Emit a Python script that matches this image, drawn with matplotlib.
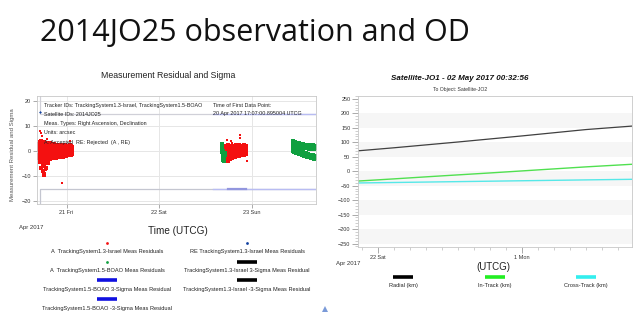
import matplotlib
matplotlib.use("Agg")
import matplotlib.pyplot as plt
from matplotlib.lines import Line2D
from matplotlib.ticker import MultipleLocator

plt.rcParams['font.family'] = ['Liberation Sans', 'DejaVu Sans']

# ---- left chart data (time in hours since 20 Apr 2017 00:00 UTCG) ----
r1_t = [16.9, 17.1, 17.3, 17.5, 17.8, 18.0, 18.2, 18.4, 18.6, 18.9, 19.1, 19.3, 19.5, 19.7,
        20.0, 20.2, 20.4, 20.6, 20.8, 21.1, 21.3, 21.5, 21.7, 21.9, 22.2, 22.4, 22.6, 22.8,
        23.0, 23.3, 23.5, 23.7, 23.9, 24.1, 24.4, 24.6, 24.8, 25.0, 25.2, 25.5]
r1_up = [2.8, 3.5, 2.2, 4.1, 3.0, 2.5, 3.8, 2.9, 2.1, 3.3, 2.6, 1.9, 2.4, 3.1, 2.0, 2.7, 1.8,
         2.3, 2.9, 1.7, 2.2, 1.6, 2.5, 1.9, 1.4, 2.1, 1.8, 2.4, 1.5, 2.0, 1.7, 2.3, 1.9, 1.6,
         2.2, 1.8, 2.6, 1.5, 2.0, 1.7]
r1_mid = [0.4, -0.8, 0.9, -0.3, 0.6, -1.1, 0.2, -0.5, 0.8, -0.2, 0.5, -0.7, 0.3, 0.0, -0.4,
          0.7, -0.1, 0.4, -0.6, 0.2, 0.5, -0.3, 0.1, -0.5, 0.3, 0.0, -0.2, 0.6, -0.4, 0.2,
          0.1, -0.3, 0.4, -0.1, 0.3, 0.0, 0.5, -0.2, 0.2, 0.6]
r1_lo = [-2.5, -4.2, -6.5, -3.1, -8.0, -5.2, -9.6, -4.4, -6.8, -3.5, -2.9, -4.6, -2.4, -3.2,
         -2.1, -2.8, -1.9, -2.5, -2.2, -1.8, -2.6, -2.0, -1.7, -2.4, -1.9, -1.5, -2.1, -1.6,
         -2.3, -1.4, -1.8, -1.2, -1.7, -1.5, -1.1, -1.6, -1.3, -1.0, -1.4, -0.9]
r1_q1 = [1.6, 1.9, 1.3, 2.0, 1.5, 1.2, 2.1, 1.7, 1.0, 1.8, 1.4, 1.1, 1.5, 1.9, 1.2, 1.6, 1.0,
         1.4, 1.7, 1.1, 1.3, 0.9, 1.5, 1.2, 0.8, 1.3, 1.1, 1.5, 0.9, 1.2, 1.0, 1.4, 1.2, 0.9,
         1.3, 1.1, 1.6, 0.9, 1.2, 1.1]
r1_q3 = [-1.4, -2.3, -3.5, -1.9, -4.6, -2.9, -5.8, -2.6, -3.9, -1.8, -1.7, -2.4, -1.3, -1.8,
         -1.2, -1.6, -1.0, -1.4, -1.3, -1.0, -1.5, -1.1, -0.9, -1.4, -1.0, -0.8, -1.2, -0.9,
         -1.3, -0.7, -1.0, -0.6, -0.9, -0.8, -0.6, -0.9, -0.7, -0.5, -0.8, -0.4]
r1s_t = [17.2, 17.6, 18.1, 18.6, 19.0, 22.9, 24.8, 17.4, 18.3]
r1s_v = [8.2, 6.0, -9.8, -7.5, 4.8, -12.5, 3.9, 7.2, -8.6]

r2_t = [64.6, 64.9, 65.2, 65.5, 65.8, 66.1, 66.4, 66.7, 67.0, 67.3, 67.6, 67.9, 68.2, 68.5,
        68.8, 69.1, 69.4, 69.7, 70.0, 70.3, 70.6]
r2_up = [1.2, 2.0, 0.8, 1.6, 2.4, 1.1, 1.9, 0.9, 1.5, 2.2, 1.3, 2.6, 1.0, 1.8, 2.3, 1.4, 2.0,
         1.2, 2.5, 1.6, 1.9]
r2_mid = [-1.5, -0.6, -2.0, -0.9, -0.2, -1.3, 0.1, -0.7, -0.4, 0.3, -0.2, 0.5, -0.1, 0.2, 0.6,
          0.0, 0.4, 0.1, 0.7, 0.3, 0.5]
r2_lo = [-3.2, -4.0, -3.6, -2.8, -3.9, -2.5, -3.1, -2.2, -2.7, -1.9, -2.3, -1.6, -2.0, -1.4,
         -1.8, -1.2, -1.5, -1.0, -1.3, -0.9, -1.1]
r2_q = [-0.3, 0.7, -1.0, 0.4, 1.1, -0.1, 1.0, 0.2, 0.6, 1.2, 0.5, 1.5, 0.4, 1.0, 1.4, 0.7,
        1.2, 0.6, 1.6, 0.9, 1.2]
r2_q2 = [-2.4, -2.9, -2.8, -1.9, -3.0, -1.9, -2.1, -1.4, -1.6, -0.8, -1.3, -0.6, -1.1, -0.6,
         -0.6, -0.6, -0.6, -0.4, -0.3, -0.3, -0.3]
r2s_t = [66.6, 66.9, 69.0, 69.1, 70.8, 65.6, 67.8]
r2s_v = [4.1, 3.2, 6.4, 5.4, -3.8, 4.6, 3.0]

g1_t = [64.2, 64.3, 64.4, 64.5, 64.6, 64.7, 64.8, 64.9, 65.0, 65.2, 64.3, 64.5, 64.7, 64.9,
        64.4, 64.6]
g1_v = [2.3, 1.0, -0.3, -1.5, -2.6, -3.4, -3.9, -2.8, -1.6, -0.5, 2.8, 0.3, -1.9, -3.6, 1.6, -1.0]

g2_t = [82.7, 83.0, 83.3, 83.6, 83.9, 84.2, 84.5, 84.8, 85.1, 85.4, 85.7, 86.0, 86.3, 86.6,
        86.9, 87.2, 87.5, 87.8, 88.1, 88.4]
g2_a = [3.9, 3.6, 3.8, 3.3, 3.0, 3.2, 2.8, 2.9, 2.5, 2.7, 2.4, 2.6, 2.2, 2.5, 2.1, 2.4, 2.0, 2.3, 2.1, 2.2]
g2_b = [2.4, 2.0, 2.6, 1.9, 1.7, 1.8, 1.5, 1.9, 1.4, 1.6, 1.2, 1.5, 1.1, 1.4, 1.0, 1.3, 0.9, 1.2, 1.0, 1.3]
g2_c = [1.2, 0.8, 1.0, 0.4, 0.2, 0.0, -0.3, -0.1, -0.6, -0.4, -0.9, -0.7, -1.2, -1.0, -1.5,
        -1.3, -1.8, -1.6, -2.0, -1.8]
g2_d = [0.3, -0.2, 0.1, -0.5, -0.7, -0.9, -1.2, -1.0, -1.5, -1.3, -1.8, -1.6, -2.1, -1.9, -2.4,
        -2.2, -2.7, -2.5, -2.9, -2.7]

rej_t = [17.1]
rej_v = [15.8]

sig_israel_t = [17.0, 17.0, 88.7]
sig_israel_up = [22.0, 15.0, 15.0]
sig_israel_dn = [-22.0, -15.0, -15.0]
sig_boao_t = [62.0, 88.7]
sig_boao_up = [15.0, 15.0]
sig_boao_dn = [-15.1, -15.1]
sig_boao_pass_t = [66.0, 70.5]

left_ticks = [24, 48, 72]
left_labels = ["21 Fri", "22 Sat", "23 Sun"]

# ---- right chart data (days since 22 Apr 2017 00:00 UTCG) ----
od_t = [-1.25, 1, 3, 5, 7, 9, 11, 13, 15.875]
radial = [70.5, 81, 91, 101, 111.5, 122, 133, 144, 156]
in_track = [-34, -26.5, -19.5, -12.7, -6, 1, 8, 15, 24]
cross_track = [-40.6, -39, -37.5, -36, -34.5, -33, -31.5, -30, -28]

right_ticks = [0, 9]
right_labels = ["22 Sat", "1 Mon"]

W, H = 643, 327
fig = plt.figure(figsize=(W / 100, H / 100), dpi=100)


def fx(px):
    return px / W


def fy(py):
    return 1 - py / H


fig.text(fx(40), fy(33), "2014JO25 observation and OD", fontsize=22,
         family=['Open Sans', 'DejaVu Sans'], va='center', ha='left', color='#111111')

# ================= left chart =================
ax = fig.add_axes([fx(37), fy(204), fx(279), 108 / H])
ax.set_xlim(16.35, 88.7)
ax.set_ylim(-21, 22)
ax.set_yticks([-20, -10, 0, 10, 20])
ax.set_xticks(left_ticks)
ax.set_xticklabels(left_labels)
ax.grid(True, color='#e6e6e6', linewidth=0.7)
ax.set_axisbelow(True)
for s in ax.spines.values():
    s.set_color('#c8c8c8')
    s.set_linewidth(0.6)
ax.tick_params(labelsize=4, length=3, width=0.5, color='#888888', pad=1.5, labelcolor='#333333')

ms = 2.5
red = '#f41010'
green = '#10a040'
ax.plot(sig_israel_t, sig_israel_up, color='#d0d0d8', lw=0.9)
ax.plot(sig_israel_t, sig_israel_dn, color='#c4c6d0', lw=0.9)
ax.plot(sig_boao_t, sig_boao_up, color='#b8bcf2', lw=1.0)
ax.plot(sig_boao_t, sig_boao_dn, color='#b8bcf2', lw=1.0)
ax.plot(sig_boao_pass_t, [sig_boao_dn[0]] * 2, color='#9296de', lw=1.6)
for vals in (r1_up, r1_q1, r1_mid, r1_q3, r1_lo):
    ax.plot(r1_t, vals, 's', color=red, ms=ms, mew=0)
ax.plot(r1s_t, r1s_v, 's', color=red, ms=2.0, mew=0)
for vals in (r2_up, r2_q, r2_mid, r2_q2, r2_lo):
    ax.plot(r2_t, vals, 's', color=red, ms=ms, mew=0)
ax.plot(r2s_t, r2s_v, 's', color=red, ms=2.0, mew=0)
ax.plot(g1_t, g1_v, 's', color=green, ms=ms, mew=0)
for vals in (g2_a, g2_b, g2_c, g2_d):
    ax.plot(g2_t, vals, 's', color=green, ms=ms, mew=0)
ax.plot(rej_t, rej_v, 'D', color='#1040a0', ms=1.4, mew=0)

info = ["Tracker IDs: TrackingSystem1.3-Israel, TrackingSystem1.5-BOAO",
        "Satellite IDs: 2014JO25",
        "Meas. Types: Right Ascension, Declination",
        "Units: arcsec",
        "A: Accepted  RE: Rejected  (A , RE)"]
for i, line in enumerate(info):
    fig.text(fx(44), fy(105 + i * 9.3), line, fontsize=3.9, va='center', color='#222222')
fig.text(fx(213), fy(105), "Time of First Data Point:", fontsize=3.9, va='center', color='#222222')
fig.text(fx(213), fy(114), "20 Apr 2017 17:07:00.895004 UTCG", fontsize=3.9, va='center',
         color='#222222')

fig.text(fx(168), fy(75), "Measurement Residual and Sigma", fontsize=6.3, ha='center',
         va='center', color='#222222')
fig.text(fx(13), fy(155), "Measurement Residual and Sigma", fontsize=4.3, ha='center',
         va='center', rotation=90, color='#555555')
fig.text(fx(31), fy(227), "Apr 2017", fontsize=4.3, ha='center', va='center', color='#333333')
fig.text(fx(178), fy(231), "Time (UTCG)", fontsize=7.2, ha='center', va='center', color='#222222')

# left legend
leg_left = [("A  TrackingSystem1.3-Israel Meas Residuals", 'dot', red),
            ("A  TrackingSystem1.5-BOAO Meas Residuals", 'dot', green),
            ("TrackingSystem1.5-BOAO 3-Sigma Meas Residual", 'bar', '#1010e0'),
            ("TrackingSystem1.5-BOAO -3-Sigma Meas Residual", 'bar', '#1010e0')]
leg_right = [("RE TrackingSystem1.3-Israel Meas Residuals", 'dot', '#1040a0'),
             ("TrackingSystem1.3-Israel 3-Sigma Meas Residual", 'bar', '#000000'),
             ("TrackingSystem1.3-Israel -3-Sigma Meas Residual", 'bar', '#000000')]


def legend_item(cx, ty, label, kind, color):
    my = ty - 9
    if kind == 'dot':
        fig.add_artist(Line2D([fx(cx)], [fy(my)], marker='o', ms=2.0, color=color, mew=0,
                              transform=fig.transFigure))
    else:
        fig.add_artist(Line2D([fx(cx - 10), fx(cx + 10)], [fy(my), fy(my)], lw=2.6,
                              color=color, solid_capstyle='butt', transform=fig.transFigure))
    fig.text(fx(cx), fy(ty), label, fontsize=4.1, ha='center', va='center', color='#222222')


for i, (lab, kind, col) in enumerate(leg_left):
    legend_item(107, 252 + i * 18.7, lab, kind, col)
for i, (lab, kind, col) in enumerate(leg_right):
    legend_item(247, 252 + i * 18.5, lab, kind, col)

fig.add_artist(Line2D([fx(325)], [fy(309)], marker='^', ms=4, color='#7a9ad8', mew=0,
                      transform=fig.transFigure))

# ================= right chart =================
ax2 = fig.add_axes([fx(358), fy(247), fx(274), 151 / H])
ax2.set_xlim(-1.25, 15.875)
ax2.set_ylim(-262, 260)
for lo in (-250, -150, -50, 50, 150):
    ax2.axhspan(lo, lo + 50, color='#f6f6f6', lw=0, zorder=0)
ax2.plot(od_t, radial, color='#404040', lw=0.9)
ax2.plot(od_t, in_track, color='#50e050', lw=1.0)
ax2.plot(od_t, cross_track, color='#55e8e8', lw=1.0)
ax2.set_yticks(range(-250, 251, 50))
ax2.yaxis.set_minor_locator(MultipleLocator(10))
ax2.set_xticks(right_ticks)
ax2.set_xticklabels(right_labels)
ax2.xaxis.set_minor_locator(MultipleLocator(1))
for s in ax2.spines.values():
    s.set_color('#c8c8c8')
    s.set_linewidth(0.6)
ax2.tick_params(which='major', labelsize=4, length=4, width=0.5, color='#888888', pad=1.5,
                labelcolor='#333333')
ax2.tick_params(which='minor', length=2, width=0.4, color='#aaaaaa')

fig.text(fx(460), fy(79), "Satellite-JO1 - 02 May 2017 00:32:56", fontsize=5.8,
         fontweight='bold', fontstyle='italic', ha='center', va='center', color='#111111')
fig.text(fx(460), fy(89), "To Object: Satellite-JO2", fontsize=3.7, ha='center', va='center',
         color='#333333')
fig.text(fx(348), fy(263), "Apr 2017", fontsize=4.3, ha='center', va='center', color='#333333')
fig.text(fx(493), fy(267), "(UTCG)", fontsize=7, ha='center', va='center', color='#222222')

od_legend = [("Radial (km)", '#000000', 403), ("In-Track (km)", '#22ee22', 495),
             ("Cross-Track (km)", '#33eeee', 586)]
for lab, col, cx in od_legend:
    fig.add_artist(Line2D([fx(cx - 10), fx(cx + 10)], [fy(277), fy(277)], lw=2.6, color=col,
                          solid_capstyle='butt', transform=fig.transFigure))
    fig.text(fx(cx), fy(285), lab, fontsize=4.1, ha='center', va='center', color='#222222')

fig.savefig("out.png", dpi=100)
